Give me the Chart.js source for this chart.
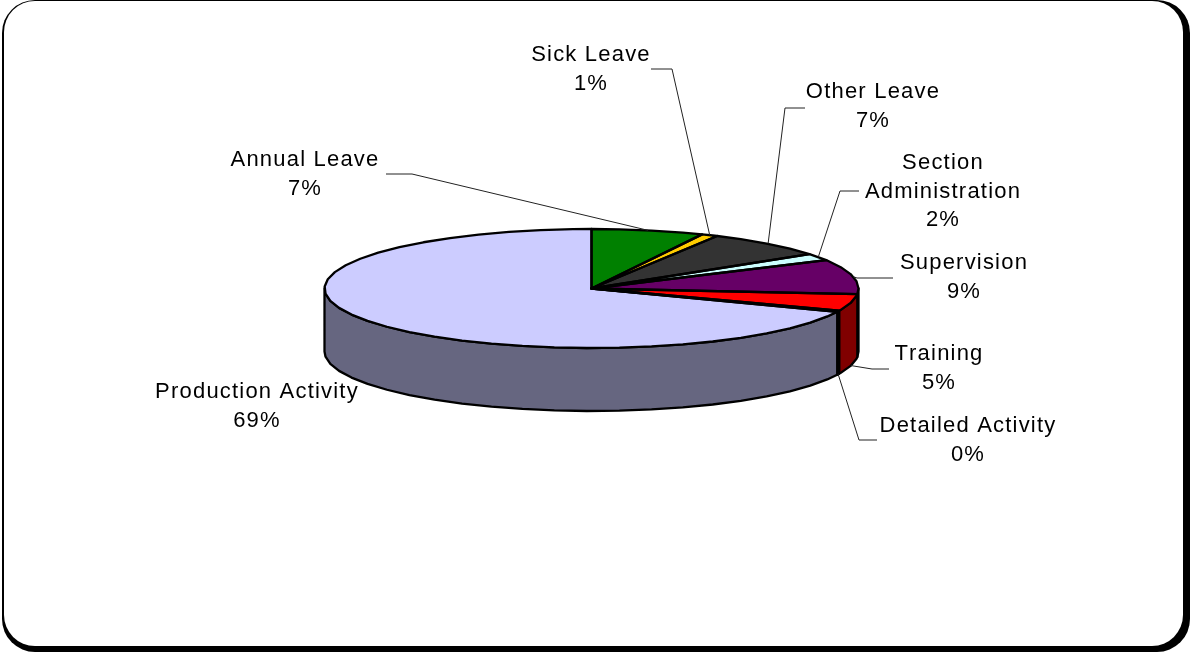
<!DOCTYPE html>
<html>
<head>
<meta charset="utf-8">
<title>Time by activity</title>
<script src="https://cdn.jsdelivr.net/npm/chart.js@4"></script>
<style>
  html, body { margin: 0; padding: 0; background: #fff; }
  #wrap { position: relative; width: 1191px; height: 656px; overflow: hidden; }
  #frame { position: absolute; left: 2px; top: 0; width: 1188px; height: 652px; background: #000; border-radius: 33px; }
  #panel { position: absolute; left: 1.5px; top: 1px; width: 1179.5px; height: 645px; background: #fff; border-radius: 31px; }
  #myChart { position: absolute; left: 0; top: 0; }
</style>
</head>
<body>
<div id="wrap">
  <div id="frame"><div id="panel"></div></div>
  <canvas id="myChart" width="1191" height="656"></canvas>
</div>
<script>
const categories = ['Annual Leave', 'Sick Leave', 'Other Leave', 'Section Administration', 'Supervision', 'Training', 'Detailed Activity', 'Production Activity'];
const shares = [6.8, 1.0, 7.4, 1.9, 9.4, 4.6, 0.3, 68.6];

const topColors = ['#008000', '#FFCC00', '#333333', '#CCFFFF', '#660066', '#FF0000', '#000000', '#CCCCFF'];
const wallColors = ['#004000', '#806600', '#1A1A1A', '#668080', '#330033', '#800000', '#000000', '#666680'];

// label text lines, centre x, first baseline, then the elbow and end of the leader line
const labelLines = [['Annual Leave'], ['Sick Leave'], ['Other Leave'], ['Section', 'Administration'], ['Supervision'], ['Training'], ['Detailed Activity'], ['Production Activity']];
const labelX = [305, 591, 873, 943, 964, 939, 968, 257];
const labelY = [166, 61, 98, 169, 269, 360, 432, 398];
const leaderElbow = [[412, 174], [672, 69], [785, 108], [840, 191], [857, 278], [872, 369], [859, 440], null];
const leaderEnd = [[386, 174], [651, 69], [805, 108], [859, 191], [893, 278], [889, 369], [877, 440], null];

// the pie is flattened on to an ellipse, and the rim sits below it
const PIE_X = 591.5;
const PIE_Y = 288.5;
const RADIUS = 267;
const RADIUS_Y = 59.5;
const DEPTH = 63;
const squash = RADIUS_Y / RADIUS;
const FACET = 7 * Math.PI / 180; // the outline of the original is faceted, not smooth

// walk the edge of the ellipse between two angles with short straight pieces
function edge(ctx, from, to, dy) {
  const dir = to > from ? 1 : -1;
  const first = dir > 0 ? Math.ceil(from / FACET) : Math.floor(from / FACET);
  ctx.lineTo(PIE_X + RADIUS * Math.cos(from), PIE_Y + dy + RADIUS_Y * Math.sin(from));
  for (let k = first; dir > 0 ? k * FACET < to : k * FACET > to; k += dir) {
    ctx.lineTo(PIE_X + RADIUS * Math.cos(k * FACET), PIE_Y + dy + RADIUS_Y * Math.sin(k * FACET));
  }
  ctx.lineTo(PIE_X + RADIUS * Math.cos(to), PIE_Y + dy + RADIUS_Y * Math.sin(to));
}

const pie3d = {
  id: 'pie3d',
  beforeDatasetsDraw(chart) {
    const ctx = chart.ctx;
    const arcs = chart.getDatasetMeta(0).data;

    // rim of the slices that face the viewer
    ctx.save();
    ctx.lineWidth = 2.3;
    ctx.lineJoin = 'round';
    ctx.strokeStyle = '#000';
    arcs.forEach((arc, i) => {
      const from = Math.max(arc.startAngle, 0);
      const to = Math.min(arc.endAngle, Math.PI);
      if (to <= from) return;
      ctx.beginPath();
      edge(ctx, from, to, 0);
      edge(ctx, to, from, DEPTH);
      ctx.closePath();
      ctx.fillStyle = wallColors[i];
      ctx.fill();
      ctx.stroke();
    });
    ctx.restore();

    // the library fills the top of the slices through this transform
    ctx.save();
    ctx.translate(PIE_X, PIE_Y);
    ctx.scale(1, squash);
    ctx.translate(-arcs[0].x, -arcs[0].y);
  },
  afterDatasetsDraw(chart) {
    const ctx = chart.ctx;
    ctx.restore();

    const arcs = chart.getDatasetMeta(0).data;
    ctx.save();
    ctx.lineWidth = 2.3;
    ctx.lineJoin = 'round';
    ctx.strokeStyle = '#000';
    arcs.forEach(arc => {
      ctx.beginPath();
      ctx.moveTo(PIE_X, PIE_Y);
      edge(ctx, arc.startAngle, arc.endAngle, 0);
      ctx.closePath();
      ctx.stroke();
    });
    ctx.restore();
  },
  afterDraw(chart) {
    const ctx = chart.ctx;
    const arcs = chart.getDatasetMeta(0).data;
    const total = shares.reduce((a, b) => a + b, 0);

    ctx.save();
    arcs.forEach((arc, i) => {
      // leader line, from the middle of the slice edge
      if (leaderElbow[i]) {
        const mid = (arc.startAngle + arc.endAngle) / 2;
        const ax = PIE_X + RADIUS * Math.cos(mid);
        let ay = PIE_Y + RADIUS_Y * Math.sin(mid);
        if (mid > 0.1) ay += DEPTH;
        ctx.beginPath();
        ctx.moveTo(ax, ay);
        ctx.lineTo(leaderElbow[i][0], leaderElbow[i][1]);
        ctx.lineTo(leaderEnd[i][0], leaderEnd[i][1]);
        ctx.strokeStyle = '#222';
        ctx.lineWidth = 1;
        ctx.stroke();
      }

      ctx.font = '22px "Liberation Sans", Arial, sans-serif';
      ctx.fontKerning = 'none';
      ctx.letterSpacing = '1.2px';
      ctx.fillStyle = '#000';
      ctx.textAlign = 'center';
      const lines = labelLines[i].concat(Math.round(shares[i] / total * 100) + '%');
      lines.forEach((line, n) => {
        ctx.fillText(line, labelX[i], labelY[i] + n * 28.5);
      });
    });
    ctx.restore();
  }
};

new Chart(document.getElementById('myChart'), {
  type: 'pie',
  data: {
    labels: categories,
    datasets: [{
      data: shares,
      backgroundColor: topColors,
      borderWidth: 0
    }]
  },
  options: {
    responsive: false,
    animation: false,
    radius: RADIUS,
    plugins: {
      legend: { display: false },
      tooltip: { enabled: false }
    }
  },
  plugins: [pie3d]
});
</script>
</body>
</html>
